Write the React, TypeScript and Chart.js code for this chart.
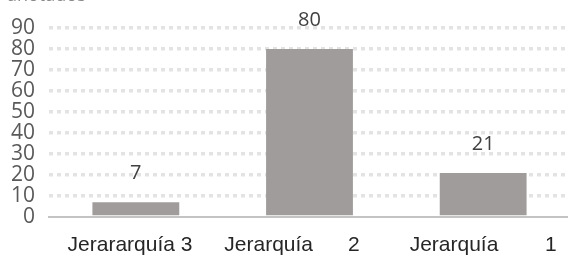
import React, { useEffect, useRef } from "react";
import { Chart, registerables } from "chart.js";

Chart.register(...registerables);

const NB = "\u00a0";
const categories = [
  "Jerararquía 3" + NB + NB,
  "Jerarquía" + NB.repeat(6) + "2" + NB.repeat(6),
  "Jerarquía" + NB.repeat(8) + "1",
];
const values = [7, 80, 21];
const yTicks = [0, 10, 20, 30, 40, 50, 60, 70, 80, 90];
const titleText = "anotados";

export default function App() {
  const ref = useRef<HTMLCanvasElement>(null);
  useEffect(() => {
    document.body.style.margin = "0";
    const valueLabels = {
      id: "valueLabels",
      afterDatasetsDraw(chart: any) {
        const ctx = chart.ctx;
        const meta = chart.getDatasetMeta(0);
        ctx.save();
        ctx.font = "20px 'Open Sans'";
        ctx.fillStyle = "#404040";
        ctx.textAlign = "center";
        ctx.textBaseline = "middle";
        meta.data.forEach((el: any, i: number) => {
          ctx.fillText(String(values[i]), el.x, el.y - 29);
        });
        ctx.font = "18px 'Open Sans'";
        ctx.fillStyle = "#8a8a8a";
        ctx.textAlign = "left";
        ctx.textBaseline = "alphabetic";
        ctx.fillText(titleText, 7, 1);
        ctx.restore();
      },
    };
    const chart = new Chart(ref.current!, {
      type: "bar",
      data: {
        labels: categories,
        datasets: [
          {
            data: values,
            backgroundColor: "#a09c9b",
            barPercentage: 0.5,
            categoryPercentage: 1,
          },
        ],
      },
      options: {
        animation: false,
        responsive: false,
        layout: { padding: { top: 28, right: 0, left: 0, bottom: 0 } },
        plugins: { legend: { display: false }, tooltip: { enabled: false } },
        scales: {
          x: {
            grid: { display: false },
            border: { display: true, color: "#c4c4c4", width: 2 },
            ticks: {
              color: "#262626",
              font: { family: "'Liberation Sans', Arial", size: 21 },
              maxRotation: 0,
              autoSkip: false,
              padding: 8,
            },
            afterFit(scale: any) {
              scale.height = 38;
            },
          },
          y: {
            min: 0,
            max: 90,
            afterBuildTicks(scale: any) {
              scale.ticks = yTicks.map((v) => ({ value: v }));
            },
            grid: {
              color: (c: any) => (c.tick && c.tick.value === 0 ? "rgba(0,0,0,0)" : "#e3e3e3"),
              lineWidth: 3.5,
              drawTicks: false,
            },
            border: { display: false, dash: [4, 4] },
            ticks: {
              color: "#595959",
              font: { family: "'Open Sans'", size: 21 },
              autoSkip: false,
              padding: 14,
            },
            afterFit(scale: any) {
              scale.width = 49;
            },
          },
        },
      },
      plugins: [valueLabels],
    });
    return () => chart.destroy();
  }, []);
  return (
    <div style={{ width: 568, height: 255, overflow: "hidden", background: "#fff" }}>
      <canvas ref={ref} width={570} height={255} style={{ display: "block" }} />
    </div>
  );
}
